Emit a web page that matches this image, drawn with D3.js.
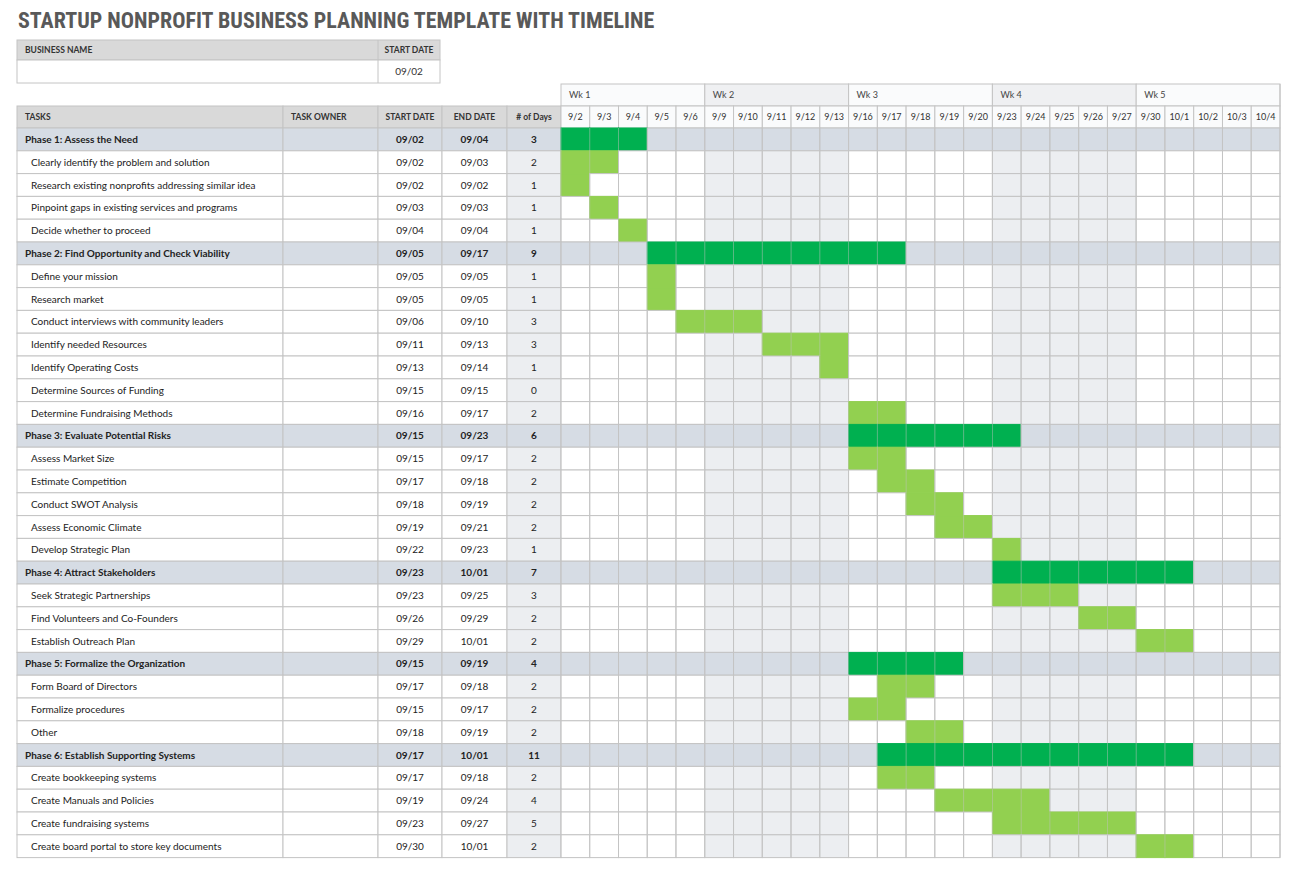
<!DOCTYPE html>
<html><head><meta charset="utf-8">
<script src="https://cdn.jsdelivr.net/npm/d3@7"></script>
<style>body{margin:0;background:#fff;font-family:Lato,"Noto Sans",sans-serif;}</style>
</head><body><div id="chart"></div>
<script>
const tasks = ["Phase 1: Assess the Need","Clearly identify the problem and solution","Research existing nonprofits addressing similar idea","Pinpoint gaps in existing services and programs","Decide whether to proceed",
"Phase 2: Find Opportunity and Check Viability","Define your mission","Research market","Conduct interviews with community leaders","Identify needed Resources","Identify Operating Costs","Determine Sources of Funding","Determine Fundraising Methods",
"Phase 3: Evaluate Potential Risks","Assess Market Size","Estimate Competition","Conduct SWOT Analysis","Assess Economic Climate","Develop Strategic Plan",
"Phase 4: Attract Stakeholders","Seek Strategic Partnerships","Find Volunteers and Co-Founders","Establish Outreach Plan",
"Phase 5: Formalize the Organization","Form Board of Directors","Formalize procedures","Other",
"Phase 6: Establish Supporting Systems","Create bookkeeping systems","Create Manuals and Policies","Create fundraising systems","Create board portal to store key documents"];
const starts = ["09/02","09/02","09/02","09/03","09/04","09/05","09/05","09/05","09/06","09/11","09/13","09/15","09/16","09/15","09/15","09/17","09/18","09/19","09/22","09/23","09/23","09/26","09/29","09/15","09/17","09/15","09/18","09/17","09/17","09/19","09/23","09/30"];
const ends = ["09/04","09/03","09/02","09/03","09/04","09/17","09/05","09/05","09/10","09/13","09/14","09/15","09/17","09/23","09/17","09/18","09/19","09/21","09/23","10/01","09/25","09/29","10/01","09/19","09/18","09/17","09/19","10/01","09/18","09/24","09/27","10/01"];
const numDays = [3,2,1,1,1,9,1,1,3,3,1,0,2,6,2,2,2,2,1,7,3,2,2,4,2,2,2,11,2,4,5,2];
const dayLabels = ["9/2","9/3","9/4","9/5","9/6","9/9","9/10","9/11","9/12","9/13","9/16","9/17","9/18","9/19","9/20","9/23","9/24","9/25","9/26","9/27","9/30","10/1","10/2","10/3","10/4"];
const weeks = ["Wk 1","Wk 2","Wk 3","Wk 4","Wk 5"];

const W = 1300, H = 884;
const svg = d3.select('#chart').append('svg').attr('width', W).attr('height', H);
const grid = '#c4c4c4';

svg.append('text').attr('x', 18).attr('y', 28)
  .style('font-family', '"Liberation Sans Narrow","Roboto Condensed","DejaVu Sans Condensed",sans-serif')
  .style('font-weight', 'bold').style('font-size', '22px').attr('fill', '#595959')
  .text('STARTUP NONPROFIT BUSINESS PLANNING TEMPLATE WITH TIMELINE');

// business name table
const bn = svg.append('g');
bn.append('rect').attr('x', 17).attr('y', 40).attr('width', 423).attr('height', 20).attr('fill', '#d9d9d9').attr('stroke', grid);
bn.append('rect').attr('x', 17).attr('y', 60).attr('width', 423).attr('height', 23).attr('fill', '#fff').attr('stroke', grid);
bn.append('line').attr('x1', 378).attr('x2', 378).attr('y1', 40).attr('y2', 83).attr('stroke', grid);
bn.append('text').attr('x', 25).attr('y', 53).attr('font-size', 8.5).attr('font-weight', 'bold').attr('fill', '#333').text('BUSINESS NAME');
bn.append('text').attr('x', 409).attr('y', 53).attr('text-anchor', 'middle').attr('font-size', 8.5).attr('font-weight', 'bold').attr('fill', '#333').text('START DATE');
bn.append('text').attr('x', 409).attr('y', 75).attr('text-anchor', 'middle').attr('font-size', 10).attr('fill', '#333').text(starts[0]);

// scales
const topY = 128, rowH = 22.8;
const y = d3.scaleBand().domain(d3.range(tasks.length)).range([topY, topY + rowH * tasks.length]);
const gx0 = 561, gx1 = 1280;
const x = d3.scaleBand().domain(dayLabels).range([gx0, gx1]);
const cols = [
  {key: 'TASKS', x0: 17, x1: 283},
  {key: 'TASK OWNER', x0: 283, x1: 378},
  {key: 'START DATE', x0: 378, x1: 442},
  {key: 'END DATE', x0: 442, x1: 507},
  {key: '# of Days', x0: 507, x1: 561}
];
const isPhase = i => tasks[i].startsWith('Phase');
const md = s => { const p = s.split('/'); return +p[0] * 100 + +p[1]; };

// table header
const hy = 106;
cols.forEach(c => {
  svg.append('rect').attr('x', c.x0).attr('y', hy).attr('width', c.x1 - c.x0).attr('height', topY - hy)
    .attr('fill', '#d9d9d9').attr('stroke', grid);
  const left = c.key === 'TASKS' || c.key === 'TASK OWNER';
  svg.append('text').attr('x', left ? c.x0 + 8 : (c.x0 + c.x1) / 2)
    .attr('text-anchor', left ? 'start' : 'middle')
    .attr('y', hy + 14).attr('font-size', 8.5).attr('font-weight', 'bold').attr('fill', '#333').text(c.key);
});

// gantt header
weeks.forEach((w, k) => {
  const a = x(dayLabels[k * 5]), b = x(dayLabels[k * 5 + 4]) + x.bandwidth();
  svg.append('rect').attr('x', a).attr('y', 84).attr('width', b - a).attr('height', hy - 84)
    .attr('fill', k % 2 ? '#eff0f2' : '#fafbfc').attr('stroke', grid);
  svg.append('text').attr('x', a + 8).attr('y', 98).attr('font-size', 9).attr('fill', '#444').text(w);
});
dayLabels.forEach(d => {
  svg.append('rect').attr('x', x(d)).attr('y', hy).attr('width', x.bandwidth()).attr('height', topY - hy)
    .attr('fill', '#fafbfc').attr('stroke', grid);
  svg.append('text').attr('x', x(d) + x.bandwidth() / 2).attr('y', hy + 14).attr('text-anchor', 'middle')
    .attr('font-size', 9).attr('fill', '#333').text(d);
});

// rows
tasks.forEach((t, i) => {
  const ph = isPhase(i), ry = y(i), h = y.bandwidth();
  const vals = [t, '', starts[i], ends[i], numDays[i]];
  cols.forEach((c, k) => {
    const fill = ph ? '#d6dce4' : (k === 4 ? '#eceef1' : '#fff');
    svg.append('rect').attr('x', c.x0).attr('y', ry).attr('width', c.x1 - c.x0).attr('height', h)
      .attr('fill', fill).attr('stroke', grid);
    if (vals[k] === '') return;
    svg.append('text').attr('x', k === 0 ? c.x0 + (ph ? 8 : 14) : (c.x0 + c.x1) / 2)
      .attr('text-anchor', k === 0 ? 'start' : 'middle').attr('y', ry + h / 2 + 3.5)
      .attr('font-size', 10).attr('font-weight', ph ? 'bold' : 'normal').attr('fill', '#222').text(vals[k]);
  });
  const s = md(starts[i]), e = md(ends[i]);
  dayLabels.forEach((d, j) => {
    const v = md(d), on = v >= s && v <= e;
    let fill = ph ? '#d6dce4' : (Math.floor(j / 5) % 2 ? '#eceef1' : '#fff');
    if (on) fill = ph ? '#00b050' : '#92d050';
    svg.append('rect').attr('x', x(d)).attr('y', ry).attr('width', x.bandwidth()).attr('height', h)
      .attr('fill', fill).attr('stroke', on ? fill : grid);
  });
});
dayLabels.forEach(d => {
  svg.append('line').attr('x1', x(d)).attr('x2', x(d)).attr('y1', topY).attr('y2', y.range()[1])
    .attr('stroke', grid).attr('stroke-width', 0.8).attr('opacity', 0.6);
});
svg.append('line').attr('x1', gx1).attr('x2', gx1).attr('y1', 84).attr('y2', y.range()[1]).attr('stroke', grid);
</script></body></html>
